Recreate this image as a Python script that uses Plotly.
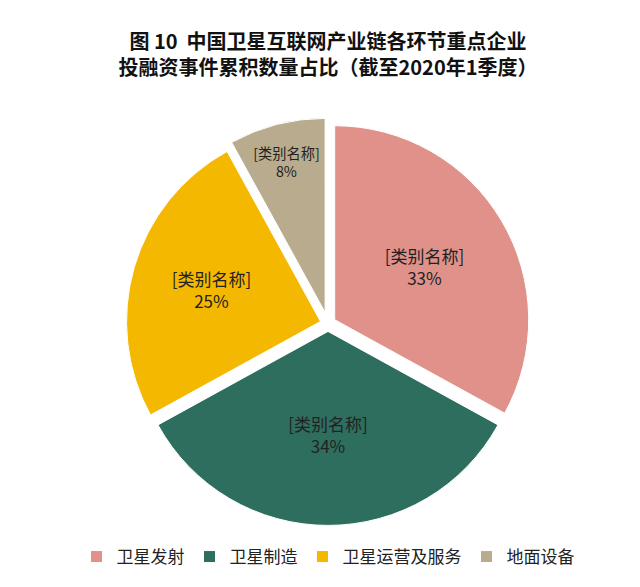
import plotly.graph_objects as go

categories = ["卫星发射", "卫星制造", "卫星运营及服务", "地面设备"]
values = [33, 34, 25, 8]
colors = ["#E0918A", "#2E6E5E", "#F5B800", "#B9AC8E"]
label_text = ["[类别名称]"] * 4

fig = go.Figure(go.Pie(
    labels=categories, values=values, sort=False, direction="clockwise", rotation=0,
    marker=dict(colors=colors, line=dict(color="white", width=1)),
    customdata=label_text,
    texttemplate="%{customdata}<br>%{percent:.0%}",
    textposition="inside", insidetextorientation="horizontal",
    textfont=dict(size=17, color="#222222", family="Noto Sans CJK SC"),
    pull=[0.04, 0.04, 0.04, 0.06],
    domain=dict(x=[0, 1], y=[0.1, 1]),
))
fig.update_layout(
    width=640, height=587, paper_bgcolor="white", plot_bgcolor="white",
    font=dict(family="Noto Sans CJK SC", color="#222"),
    title=dict(text="<b>图 10  中国卫星互联网产业链各环节重点企业<br>投融资事件累积数量占比（截至2020年1季度）</b>",
               x=0.5, y=0.93, xanchor="center", yanchor="top", font=dict(size=20, color="#111")),
    legend=dict(orientation="h", x=0.5, xanchor="center", y=0.0, yanchor="bottom",
                font=dict(size=17), traceorder="normal"),
    margin=dict(l=30, r=30, t=110, b=20),
)
fig.write_html("out.html")
